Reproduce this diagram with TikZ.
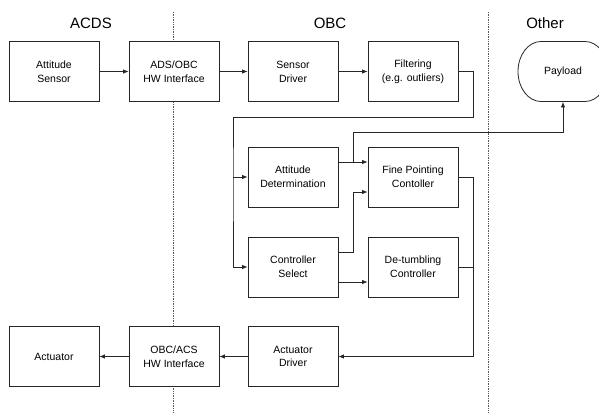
\documentclass[tikz,border=0pt]{standalone}
\usepackage{fontspec}
\setmainfont{Liberation Sans}
\usetikzlibrary{arrows.meta,calc}
\begin{document}
\begin{tikzpicture}[x=1pt,y=-1pt,
  blk/.style={draw=black!85,line width=0.8pt,fill=white,minimum width=90pt,minimum height=60pt,
    inner sep=0pt,align=center,font=\fontsize{10.5}{13.8}\selectfont},
  hdr/.style={font=\fontsize{15}{17}\selectfont},
  conn/.style={draw=black!85,line width=0.8pt},
  arr/.style={conn,-{Latex[length=5.5pt,width=4.5pt]}},
  divider/.style={draw=black!65,line width=0.7pt,densely dotted}]
\useasboundingbox (0,0) rectangle (599,412);
% dividers
\coordinate (d1t) at (173,12); \coordinate (d1b) at (173,412);
\coordinate (d2t) at (488,12); \coordinate (d2b) at (488,412);
\draw[divider] (d1t) -- (d1b);
\draw[divider] (d2t) -- (d2b);
% headers
\node[hdr] (hacds) at (91,23) {ACDS};
\node[hdr] (hobc) at (330,23) {OBC};
\node[hdr] (hother) at (545,23) {Other};
% blocks
\node[blk] (as) at (54,71.5) {Attitude\\Sensor};
\node[blk] (adsi) at (174,71.5) {ADS/OBC\\HW Interface};
\node[blk] (sd) at (293,71.5) {Sensor\\Driver};
\node[blk] (filt) at (413,71.5) {Filtering\\(e.g. outliers)};
\node[blk] (ad) at (293,177) {Attitude\\Determination};
\node[blk] (fp) at (413,177) {Fine Pointing\\Contoller};
\node[blk] (cs) at (293,267) {Controller\\Select};
\node[blk] (dt) at (413,267) {De-tumbling\\Controller};
\node[blk] (act) at (54,356.5) {Actuator};
\node[blk] (obcacs) at (174,356.5) {OBC/ACS\\HW Interface};
\node[blk] (actd) at (293,356.5) {Actuator\\Driver};
% payload (stadium, clipped at right edge)
\node[blk,draw=none,fill=none] (pay) at (563,71.5) {Payload};
\draw[conn] (541,41.5) -- (585,41.5) arc[start angle=-90,end angle=90,x radius=23,y radius=30]
  -- (541,101.5) arc[start angle=90,end angle=270,x radius=23,y radius=30];
% connectors top row
\draw[arr] (as) -- (adsi);
\draw[arr] (adsi) -- (sd);
\draw[arr] (sd) -- (filt);
% filtering loop back
\coordinate (fr) at (473,71.5);
\coordinate (fb) at (473,117);
\coordinate (fl) at (233,117);
\coordinate (jad) at (233,177);
\coordinate (jcs) at (233,267);
\draw[conn] (filt.east) -- (fr) -- (fb) -- (fl) -- (jad) -- (jcs);
\draw[arr] (jad) -- (ad.west);
\draw[arr] (jcs) -- (cs.west);
% AD -> FP and payload
\coordinate (adout) at ($(ad.east)+(0,-15)$);
\coordinate (fpin1) at ($(fp.west)+(0,-15)$);
\coordinate (jp) at (353,162);
\coordinate (jp1) at (353,132);
\coordinate (jp2) at (563,132);
\draw[arr] (adout) -- (fpin1);
\draw[arr] (jp) -- (jp1) -- (jp2) -- (pay.south);
% CS -> FP, CS -> DT
\coordinate (csout1) at ($(cs.east)+(0,-15)$);
\coordinate (cj1) at (353,252);
\coordinate (cj2) at (353,192);
\coordinate (fpin2) at ($(fp.west)+(0,15)$);
\draw[arr] (csout1) -- (cj1) -- (cj2) -- (fpin2);
\coordinate (csout2) at ($(cs.east)+(0,15)$);
\coordinate (dtin) at ($(dt.west)+(0,15)$);
\draw[arr] (csout2) -- (dtin);
% FP, DT -> actuator driver
\coordinate (fpo) at (473,177);
\coordinate (dto) at (473,267);
\coordinate (ab) at (473,356.5);
\draw[conn] (fp.east) -- (fpo) -- (ab);
\draw[conn] (dt.east) -- (dto);
\draw[arr] (ab) -- (actd.east);
\draw[arr] (actd) -- (obcacs);
\draw[arr] (obcacs) -- (act);
\end{tikzpicture}
\end{document}
